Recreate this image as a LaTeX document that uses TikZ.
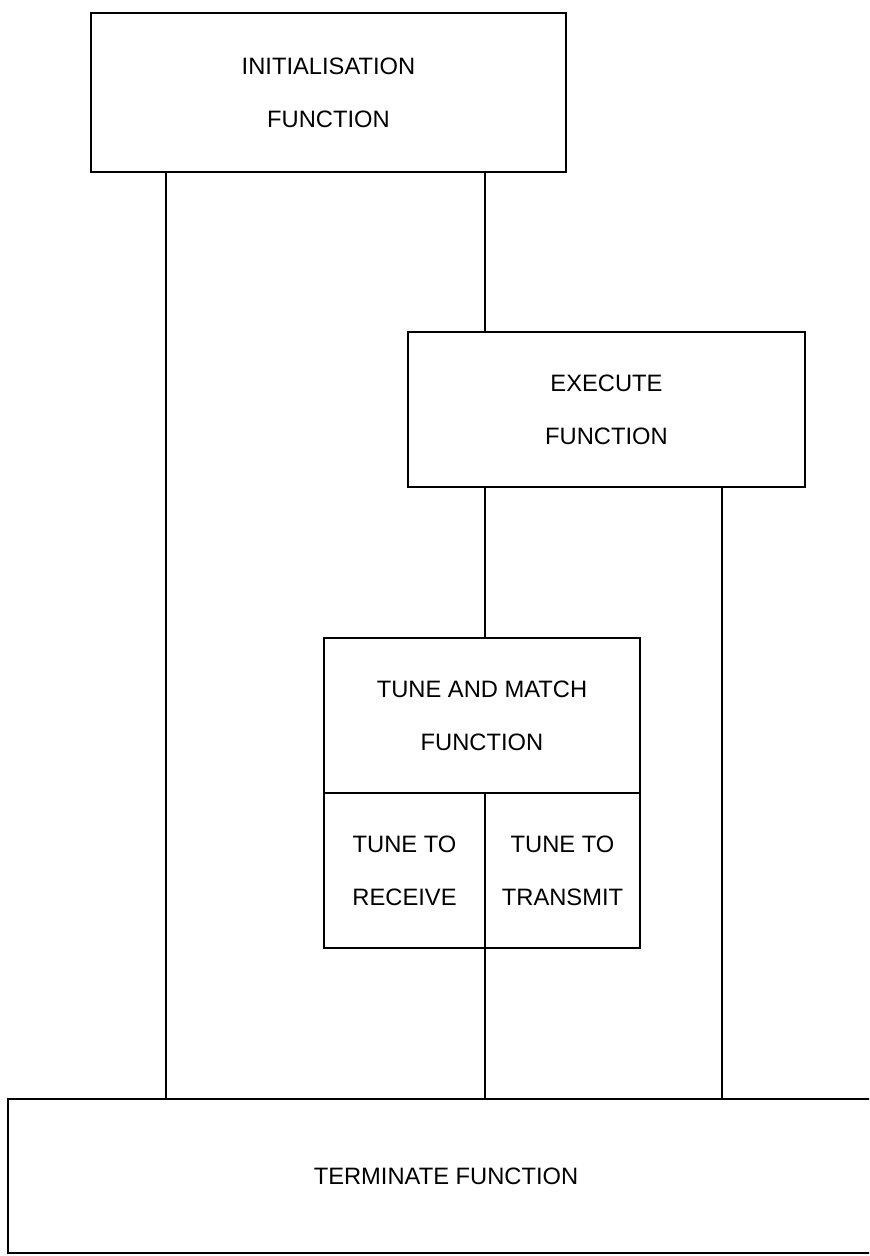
\documentclass[tikz,border=0pt]{standalone}
\usepackage{fontspec}
\setmainfont{Liberation Sans}
\usetikzlibrary{positioning}

\tikzset{
    funcbox/.style={draw, line width=1.2pt, align=center, inner sep=0pt, outer sep=0pt,
        font=\fontsize{13.5}{30}\selectfont},
    wire/.style={line width=1pt}
}

\begin{document}
\begin{tikzpicture}
    % Page frame
    \useasboundingbox (0,0) rectangle (17.38,-25.12);
    \clip (0,0) rectangle (17.38,-25.12);

    % Function blocks
    \node[funcbox, minimum width=9.5cm, minimum height=3.18cm] (init) at (6.57,-1.85) {INITIALISATION\\FUNCTION};
    \node[funcbox, minimum width=7.94cm, minimum height=3.1cm] (exec) at (12.13,-8.19) {EXECUTE\\FUNCTION};
    \node[funcbox, minimum width=6.32cm, minimum height=3.1cm] (tune) at (9.64,-14.31) {TUNE AND MATCH\\FUNCTION};

    % Sub-blocks of Tune and Match
    \node[funcbox, anchor=north west, minimum width=3.22cm, minimum height=3.1cm] (rx) at (tune.south west) {TUNE TO\\RECEIVE};
    \node[funcbox, anchor=north east, minimum width=3.1cm, minimum height=3.1cm] (tx) at (tune.south east) {TUNE TO\\TRANSMIT};

    % Terminate block (runs off the right edge)
    \node[funcbox, minimum width=17.52cm, minimum height=3.08cm] (term) at (8.92,-23.52) {TERMINATE FUNCTION};

    % Line positions
    \coordinate (xl) at (3.32,0);
    \coordinate (xm) at (9.70,0);
    \coordinate (xr) at (14.44,0);

    % Connections
    \draw[wire] (init.south -| xl) -- (term.north -| xl);
    \draw[wire] (init.south -| xm) -- (exec.north -| xm);
    \draw[wire] (exec.south -| xm) -- (tune.north -| xm);
    \draw[wire] (exec.south -| xr) -- (term.north -| xr);
    \draw[wire] (rx.south east) -- (term.north -| rx.south east);
\end{tikzpicture}
\end{document}
